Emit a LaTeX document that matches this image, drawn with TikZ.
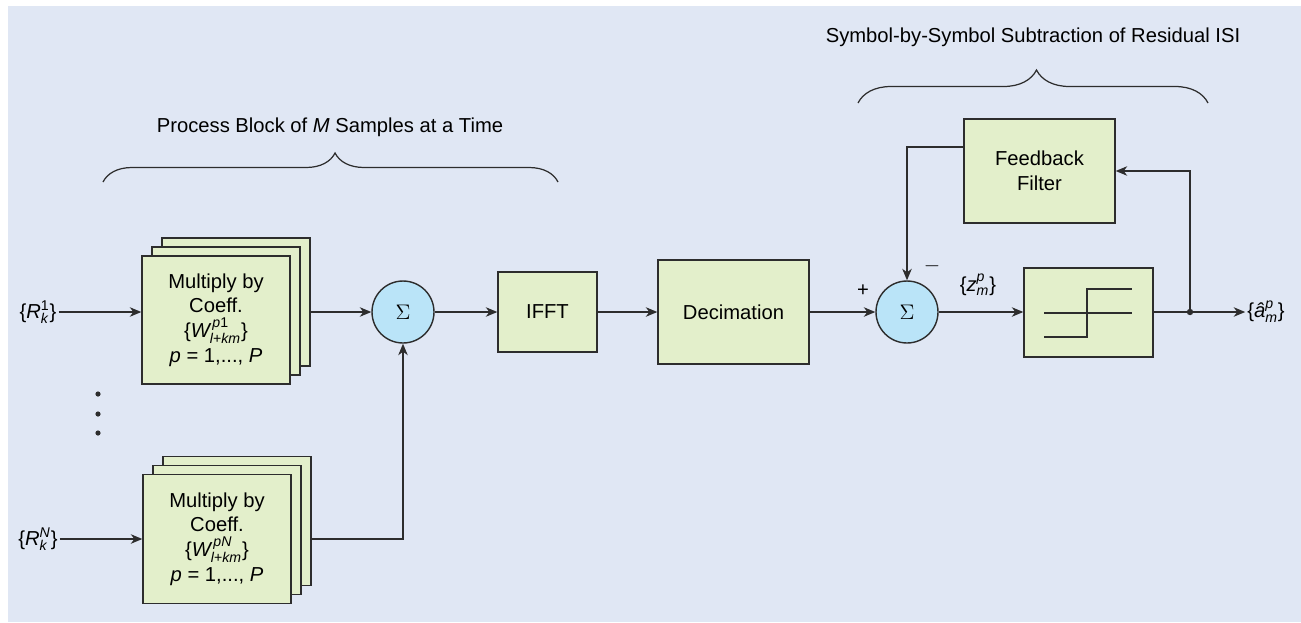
\documentclass[tikz,border=0pt]{standalone}
\usepackage{fontspec}
\setmainfont{Liberation Sans}
\usepackage{amsmath}
\usepackage{tikz}
\usetikzlibrary{arrows.meta, positioning, calc, decorations.pathreplacing}
\definecolor{bgblue}{RGB}{224, 231, 244}
\definecolor{boxgreen}{RGB}{227, 239, 203}
\definecolor{sumcyan}{RGB}{186, 228, 248}
\definecolor{linegray}{RGB}{45, 45, 45}
\newcommand{\svar}[1]{\text{\itshape #1}}
\tikzset{
  blockbox/.style={draw=linegray, fill=boxgreen, line width=0.8pt, align=center, inner sep=2pt, font=\fontsize{11.5}{14}\selectfont},
  sumnode/.style={circle, draw=linegray, fill=sumcyan, line width=0.8pt, minimum size=1.24cm, inner sep=0pt, font=\large},
  sig/.style={draw=linegray, line width=0.7pt, -{Stealth[length=2.3mm, width=1.9mm, inset=0.7mm]}},
  wire/.style={draw=linegray, line width=0.7pt},
  lbl/.style={font=\fontsize{11.5}{14}\selectfont, inner sep=1pt},
  bracedeco/.style={draw=linegray, line width=0.7pt, decorate}
}
\begin{document}
\begin{tikzpicture}[x=0.02cm, y=-0.02cm]
  \useasboundingbox (0,0) rectangle (1301,622);
  \fill[bgblue] (8,6) rectangle (1301,622);

  % Upper coefficient stack
  \node[blockbox, minimum width=2.96cm, minimum height=2.56cm] (mulA3) at (236,302) {};
  \node[blockbox, minimum width=2.96cm, minimum height=2.56cm] (mulA2) at (226,311) {};
  \node[blockbox, minimum width=2.96cm, minimum height=2.56cm] (mulA) at (216,320) {
    Multiply by\\Coeff.\\
    $\text{\{}\svar{W}^{\,\svar{p}\text{1}}_{\svar{l}\text{+}\svar{km}}\text{\}}$\\
    \textit{p} = 1,..., \textit{P}
  };

  % Lower coefficient stack
  \node[blockbox, minimum width=2.96cm, minimum height=2.58cm] (mulB3) at (237,521) {};
  \node[blockbox, minimum width=2.96cm, minimum height=2.58cm] (mulB2) at (227,530) {};
  \node[blockbox, minimum width=2.96cm, minimum height=2.58cm] (mulB) at (217,539) {
    Multiply by\\Coeff.\\
    $\text{\{}\svar{W}^{\,\svar{p}\svar{N}}_{\svar{l}\text{+}\svar{km}}\text{\}}$\\
    \textit{p} = 1,..., \textit{P}
  };

  % Inputs
  \node[lbl] (inA) at (38,312) {$\text{\{}\svar{R}^{\text{1}}_{\svar{k}}\text{\}}$};
  \node[lbl] (inB) at (38,539) {$\text{\{}\svar{R}^{\svar{N}}_{\svar{k}}\text{\}}$};
  \foreach \yy in {394, 414, 433}
    \fill[linegray] (98,\yy) circle (2.6);

  % Main chain
  \node[sumnode] (sumA) at (403,312) {$\Sigma$};
  \node[blockbox, minimum width=1.98cm, minimum height=1.6cm] (ifft) at (547.5,312) {IFFT};
  \node[blockbox, minimum width=3.02cm, minimum height=2.08cm] (decim) at (733.5,312) {Decimation};
  \node[sumnode] (sumB) at (907,312) {$\Sigma$};
  \node[blockbox, minimum width=2.58cm, minimum height=1.78cm] (slicer) at (1088.5,312.5) {};
  \node[blockbox, minimum width=3.02cm, minimum height=2.08cm] (fbf) at (1039.5,171) {Feedback\\Filter};
  \coordinate (jct) at (1190,312);
  \node[lbl] (outB) at (1266,312) {$\text{\{}\svar{â}^{\svar{p}}_{\svar{m}}\text{\}}$};

  % Slicer characteristic
  \draw[linegray, line width=0.6pt] (1044,313) -- (1132,313);
  \draw[linegray, line width=1.1pt] (1044,337) -- (1087,337) -- (1087,289) -- (1132,289);

  % Signs and labels
  \node[lbl] (plus) at (863,291) {+};
  \node[lbl] (minus) at (932,266) {$-$};
  \node[lbl] (zlbl) at (978,285) {$\text{\{}\svar{z}^{\svar{p}}_{\svar{m}}\text{\}}$};

  % Connections
  \draw[sig] (inA) -- (inA -| mulA.west);
  \draw[sig] (inB) -- (inB -| mulB.west);
  \draw[sig] (sumA -| mulA3.east) -- (sumA);
  \draw[sig] (mulB -| mulB3.east) -| (sumA.south);
  \draw[sig] (sumA) -- (ifft);
  \draw[sig] (ifft) -- (decim);
  \draw[sig] (decim) -- (sumB);
  \draw[sig] (sumB) -- (sumB -| slicer.west);
  \draw[wire] (jct -| slicer.east) -- (jct);
  \draw[sig] (jct) -- (outB);
  \draw[sig] (jct) |- (fbf.east);
  \draw[sig] ([yshift=0.48cm]fbf.west) -| (sumB.north);
  \fill[linegray] (jct) circle (3.2);

  % Braces
  \draw[bracedeco, decoration={brace, amplitude=0.58cm, aspect=0.51}] (103,182) -- (558,182);
  \node[lbl] (procLbl) at (330,127) {Process Block of \textit{M} Samples at a Time};
  \draw[bracedeco, decoration={brace, amplitude=0.66cm, aspect=0.51}] (858,103) -- (1208,103);
  \node[lbl] (isiLbl) at (1033,37) {Symbol-by-Symbol Subtraction of Residual ISI};
\end{tikzpicture}
\end{document}
